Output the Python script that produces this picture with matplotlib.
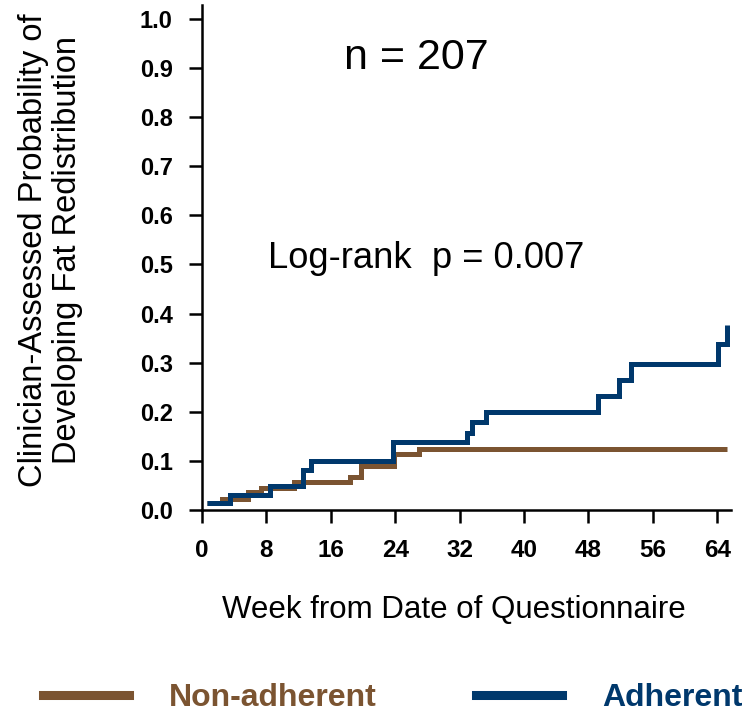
import matplotlib
matplotlib.use("Agg")
import matplotlib.pyplot as plt
from matplotlib.lines import Line2D

plt.rcParams['font.family'] = ['Liberation Sans', 'DejaVu Sans']

# Kaplan-Meier style cumulative incidence (step changes, weeks)
nonadh_weeks = [0.6, 2.5, 5.75, 7.35, 11.4, 18.4, 19.8, 23.9, 27.0, 65.2]
nonadh_prob = [0.014, 0.022, 0.037, 0.045, 0.057, 0.067, 0.090, 0.114, 0.124, 0.124]

adh_weeks = [0.6, 3.5, 8.4, 12.5, 13.5, 23.7, 32.9, 33.5, 35.3, 49.2, 51.8, 53.3, 64.1, 65.2]
adh_prob = [0.014, 0.030, 0.049, 0.082, 0.100, 0.139, 0.157, 0.180, 0.200, 0.232, 0.265, 0.297, 0.337, 0.377]

x_ticks = [0, 8, 16, 24, 32, 40, 48, 56, 64]
y_ticks = [0.0, 0.1, 0.2, 0.3, 0.4, 0.5, 0.6, 0.7, 0.8, 0.9, 1.0]

BROWN = "#7B5431"
BLUE = "#00386C"

fig = plt.figure(figsize=(7.45, 7.17), dpi=100)
ax = fig.add_axes([202 / 745, 207 / 717, 529 / 745, 505 / 717])

ax.step(nonadh_weeks, nonadh_prob, where='post', color=BROWN, lw=3.6,
        solid_joinstyle='miter', solid_capstyle='butt', label='Non-adherent')
ax.step(adh_weeks, adh_prob, where='post', color=BLUE, lw=3.6,
        solid_joinstyle='miter', solid_capstyle='butt', label='Adherent')

ax.set_xlim(0, 65.7)
ax.set_ylim(0, 1.028)
ax.set_xticks(x_ticks)
ax.set_yticks(y_ticks)
ax.set_yticklabels([f"{v:.1f}" for v in y_ticks])

for s in ('top', 'right'):
    ax.spines[s].set_visible(False)
for s in ('left', 'bottom'):
    ax.spines[s].set_linewidth(1.8)

ax.tick_params(axis='both', direction='out', length=9.5, width=1.8)
ax.tick_params(axis='y', pad=11.5, labelsize=17)
ax.tick_params(axis='x', pad=11.5, labelsize=17.5)
for lab in ax.get_xticklabels() + ax.get_yticklabels():
    lab.set_fontweight('bold')

ax.set_xlabel("Week from Date of Questionnaire", fontsize=22.5, va='baseline')
ax.xaxis.set_label_coords(0.477, -0.2139)
fig.text(0.068, 0.651, "Clinician-Assessed Probability of\nDeveloping Fat Redistribution",
         rotation=90, ha='center', va='center', multialignment='center',
         fontsize=23.5, linespacing=1.15)

ax.text(26.6, 0.898, "n = 207", fontsize=31, ha='center', va='baseline')
ax.text(27.8, 0.493, "Log-rank  p = 0.007", fontsize=26.2, ha='center', va='baseline')

handles = [Line2D([], [], color=BROWN, lw=6.5), Line2D([], [], color=BLUE, lw=6.5)]
leg = fig.legend(handles, ['Non-adherent', 'Adherent'], ncol=2, frameon=False,
                 loc='center', bbox_to_anchor=(0.527, 0.0265),
                 prop={'size': 23, 'weight': 'bold'},
                 handlelength=2.7, handletextpad=1.25, columnspacing=3.1)
for txt, c in zip(leg.get_texts(), [BROWN, BLUE]):
    txt.set_color(c)

fig.savefig("out.png", dpi=100)
